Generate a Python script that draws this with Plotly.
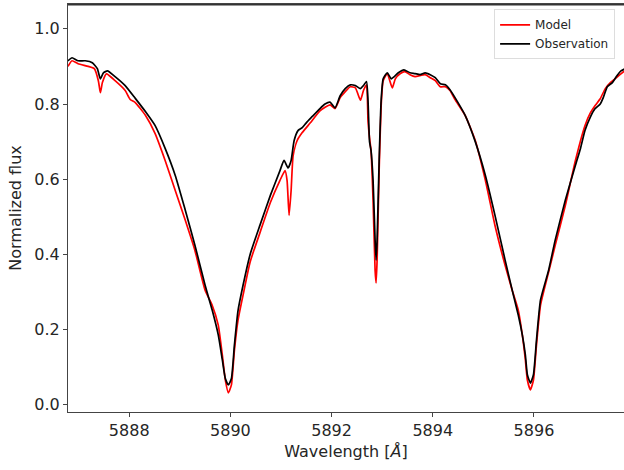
import plotly.graph_objects as go

# observed spectrum (Na D region)
wl_obs = [5886.79, 5886.87, 5886.99, 5887.13, 5887.27, 5887.37, 5887.43, 5887.49, 5887.57, 5887.72,
          5887.92, 5888.12, 5888.32, 5888.51, 5888.71, 5888.91, 5889.11, 5889.30, 5889.50, 5889.64,
          5889.76, 5889.84, 5889.90, 5889.96, 5890.02, 5890.08, 5890.15, 5890.25, 5890.39, 5890.59,
          5890.79, 5890.98, 5891.06, 5891.14, 5891.20, 5891.26, 5891.34, 5891.42, 5891.50, 5891.62,
          5891.77, 5891.87, 5891.97, 5892.07, 5892.17, 5892.27, 5892.37, 5892.47, 5892.57, 5892.63,
          5892.69, 5892.72, 5892.75, 5892.78, 5892.82, 5892.86, 5892.88, 5892.90, 5892.94, 5892.98,
          5893.02, 5893.10, 5893.18, 5893.24, 5893.32, 5893.43, 5893.55, 5893.65, 5893.75, 5893.85,
          5893.95, 5894.05, 5894.15, 5894.25, 5894.34, 5894.44, 5894.64, 5894.84, 5895.04, 5895.23,
          5895.43, 5895.57, 5895.69, 5895.77, 5895.83, 5895.87, 5895.93, 5895.99, 5896.05, 5896.13,
          5896.29, 5896.42, 5896.62, 5896.82, 5896.92, 5897.01, 5897.11, 5897.21, 5897.31, 5897.37,
          5897.45, 5897.55, 5897.64, 5897.72, 5897.80]
flux_obs = [0.915, 0.923, 0.915, 0.915, 0.910, 0.894, 0.867, 0.883, 0.888, 0.873,
            0.849, 0.815, 0.780, 0.743, 0.682, 0.610, 0.517, 0.424, 0.318, 0.252,
            0.186, 0.120, 0.070, 0.053, 0.070, 0.160, 0.250, 0.318, 0.400, 0.480,
            0.557, 0.623, 0.650, 0.630, 0.650, 0.703, 0.730, 0.737, 0.750, 0.767,
            0.788, 0.800, 0.805, 0.790, 0.822, 0.841, 0.851, 0.849, 0.841, 0.849,
            0.860, 0.810, 0.700, 0.676, 0.597, 0.438, 0.385, 0.438, 0.650, 0.810,
            0.867, 0.883, 0.867, 0.873, 0.883, 0.891, 0.883, 0.881, 0.878, 0.883,
            0.878, 0.870, 0.854, 0.851, 0.838, 0.817, 0.770, 0.700, 0.610, 0.504,
            0.385, 0.305, 0.239, 0.186, 0.133, 0.080, 0.058, 0.080, 0.172, 0.279,
            0.358, 0.438, 0.544, 0.637, 0.682, 0.730, 0.764, 0.788, 0.800, 0.817,
            0.846, 0.857, 0.875, 0.888, 0.894]

# synthetic model spectrum
wl_mod = [5886.79, 5886.87, 5886.99, 5887.19, 5887.31, 5887.39, 5887.43, 5887.47, 5887.55, 5887.72,
          5887.92, 5888.02, 5888.12, 5888.32, 5888.51, 5888.71, 5888.91, 5889.11, 5889.30, 5889.50,
          5889.64, 5889.76, 5889.84, 5889.90, 5889.96, 5890.02, 5890.08, 5890.15, 5890.25, 5890.39,
          5890.59, 5890.79, 5890.98, 5891.08, 5891.12, 5891.16, 5891.20, 5891.24, 5891.32, 5891.42,
          5891.58, 5891.77, 5891.97, 5892.07, 5892.17, 5892.27, 5892.37, 5892.47, 5892.57, 5892.63,
          5892.69, 5892.72, 5892.75, 5892.78, 5892.82, 5892.86, 5892.88, 5892.90, 5892.94, 5892.98,
          5893.02, 5893.10, 5893.20, 5893.26, 5893.36, 5893.45, 5893.55, 5893.65, 5893.85, 5893.95,
          5894.05, 5894.15, 5894.25, 5894.34, 5894.44, 5894.64, 5894.84, 5895.04, 5895.23, 5895.43,
          5895.57, 5895.69, 5895.77, 5895.83, 5895.87, 5895.93, 5895.99, 5896.05, 5896.13, 5896.29,
          5896.42, 5896.62, 5896.82, 5897.01, 5897.11, 5897.21, 5897.31, 5897.41, 5897.51, 5897.60,
          5897.70, 5897.80]
flux_mod = [0.900, 0.915, 0.907, 0.900, 0.894, 0.862, 0.830, 0.857, 0.880, 0.862,
            0.836, 0.812, 0.804, 0.770, 0.722, 0.650, 0.570, 0.490, 0.410, 0.305,
            0.265, 0.212, 0.133, 0.066, 0.032, 0.053, 0.146, 0.225, 0.292, 0.380,
            0.460, 0.538, 0.597, 0.623, 0.597, 0.504, 0.570, 0.663, 0.703, 0.724,
            0.750, 0.782, 0.798, 0.788, 0.817, 0.833, 0.846, 0.843, 0.810, 0.836,
            0.851, 0.756, 0.710, 0.676, 0.544, 0.358, 0.324, 0.385, 0.623, 0.796,
            0.862, 0.881, 0.843, 0.867, 0.881, 0.886, 0.878, 0.873, 0.878, 0.870,
            0.862, 0.846, 0.846, 0.836, 0.812, 0.770, 0.703, 0.597, 0.477, 0.371,
            0.305, 0.252, 0.186, 0.120, 0.066, 0.040, 0.066, 0.159, 0.265, 0.353,
            0.424, 0.530, 0.650, 0.743, 0.775, 0.796, 0.814, 0.841, 0.857, 0.867,
            0.878, 0.889]

x_ticks = [5888, 5890, 5892, 5894, 5896]
y_ticks = [0.0, 0.2, 0.4, 0.6, 0.8, 1.0]

fig = go.Figure()

fig.add_trace(go.Scatter(x=wl_mod, y=flux_mod, mode='lines', name='Model',
                         line=dict(color='red', width=1.7, shape='spline', smoothing=0.5)))
fig.add_trace(go.Scatter(x=wl_obs, y=flux_obs, mode='lines', name='Observation',
                         line=dict(color='black', width=1.7, shape='spline', smoothing=0.5)))

axis_style = dict(showgrid=False, zeroline=False, showline=True, linecolor='#444', linewidth=1,
                  ticks='outside', ticklen=4, tickcolor='#444', automargin=False,
                  tickfont=dict(size=16, color='#262626'))

fig.update_xaxes(range=[5886.79, 5897.78], tickvals=x_ticks, ticktext=[str(t) for t in x_ticks],
                 mirror=True,
                 title=dict(text='Wavelength [<i>Å</i>]', font=dict(size=16, color='#262626'), standoff=6),
                 **axis_style)
fig.update_yaxes(range=[-0.019, 1.066], tickvals=y_ticks, ticktext=['%.1f' % t for t in y_ticks],
                 title=dict(text='Normalized flux', font=dict(size=16, color='#262626'), standoff=8),
                 **axis_style)

# top spine, drawn a hair inside the plot area
fig.add_shape(type='line', xref='paper', yref='paper', x0=0, x1=1, y0=0.998, y1=0.998,
              line=dict(color='#333', width=1.5), layer='above')

fig.update_layout(
    width=624, height=470,
    margin=dict(l=68, r=0, t=4, b=58, autoexpand=False),
    paper_bgcolor='white', plot_bgcolor='white',
    font=dict(family='DejaVu Sans', color='#262626'),
    legend=dict(x=0.984, y=0.987, xanchor='right', yanchor='top',
                bgcolor='rgba(255,255,255,0.8)', bordercolor='#dddddd', borderwidth=1,
                font=dict(size=12, color='#262626'), tracegroupgap=0),
)

# page body has a default 8px margin; drop it so the figure sits at the window corner
fig.write_html("out.html", config={'displayModeBar': False},
               post_script="document.body.style.margin='0';")
